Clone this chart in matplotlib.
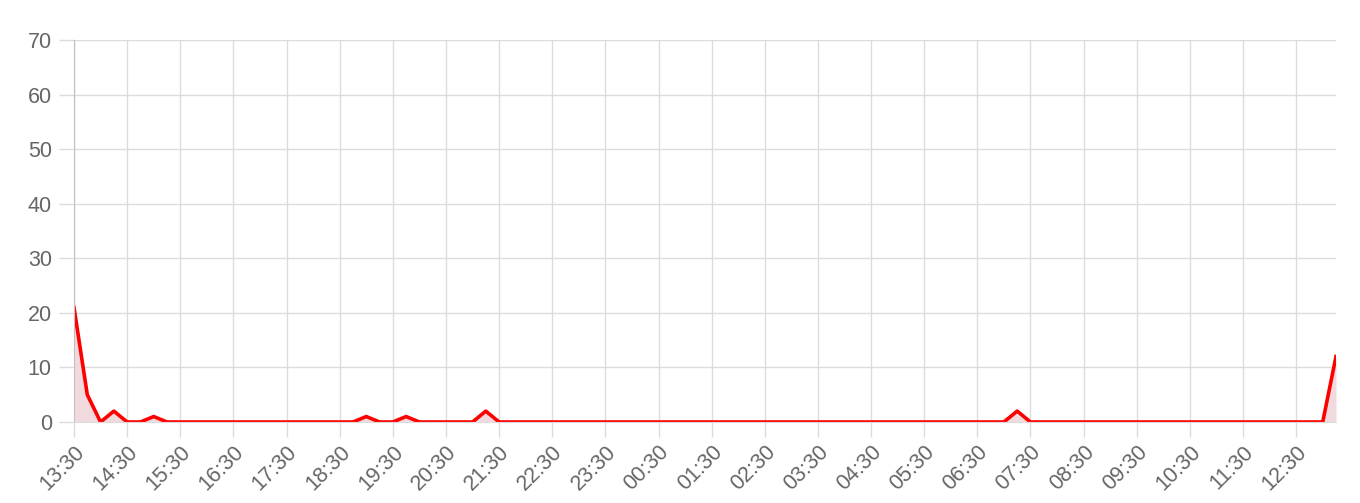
import matplotlib
matplotlib.use("Agg")
import matplotlib.pyplot as plt
import pandas as pd

# 15-minute samples from 13:30 to 13:15 the next day
times = pd.date_range("2024-01-01 13:30", periods=96, freq="15min")
time_labels = [t.strftime("%H:%M") for t in times]

counts = [21, 5, 0, 2, 0, 0, 1, 0, 0, 0, 0, 0, 0, 0, 0, 0,
          0, 0, 0, 0, 0, 0, 1, 0, 0, 1, 0, 0, 0, 0, 0, 2,
          0, 0, 0, 0, 0, 0, 0, 0, 0, 0, 0, 0, 0, 0, 0, 0,
          0, 0, 0, 0, 0, 0, 0, 0, 0, 0, 0, 0, 0, 0, 0, 0,
          0, 0, 0, 0, 0, 0, 0, 2, 0, 0, 0, 0, 0, 0, 0, 0,
          0, 0, 0, 0, 0, 0, 0, 0, 0, 0, 0, 0, 0, 0, 0, 12]

grid_color = "#dcdcdc"
text_color = "#666666"
plt.rcParams["font.family"] = ["Liberation Sans", "DejaVu Sans"]

fig = plt.figure(figsize=(13.6, 5.03), dpi=100)
ax = fig.add_axes([74 / 1360, 81 / 503, 1262 / 1360, 382 / 503])

x = list(range(len(counts)))
ax.fill_between(x, counts, 0, color="#f1dadd", linewidth=0)
ax.plot(x, counts, color="#ff0000", linewidth=2.6, solid_joinstyle="round")

ax.set_xlim(0, len(counts) - 1)
ax.set_ylim(0, 70)
ax.set_yticks(range(0, 71, 10))
ax.set_xticks(x[::4])
ax.set_xticklabels(time_labels[::4], rotation=45, ha="right", va="top",
                   rotation_mode="anchor")

ax.grid(True, color=grid_color, linewidth=1)
ax.set_axisbelow(True)
ax.tick_params(axis="both", length=11, color=grid_color, width=1,
               labelcolor=text_color, labelsize=15.5)
ax.tick_params(axis="x", pad=3)
ax.tick_params(axis="y", pad=5)

for side in ["top", "right"]:
    ax.spines[side].set_visible(False)
ax.spines["bottom"].set_color(grid_color)
ax.spines["left"].set_color("#c0c0c0")

fig.savefig("out.png", dpi=100)
